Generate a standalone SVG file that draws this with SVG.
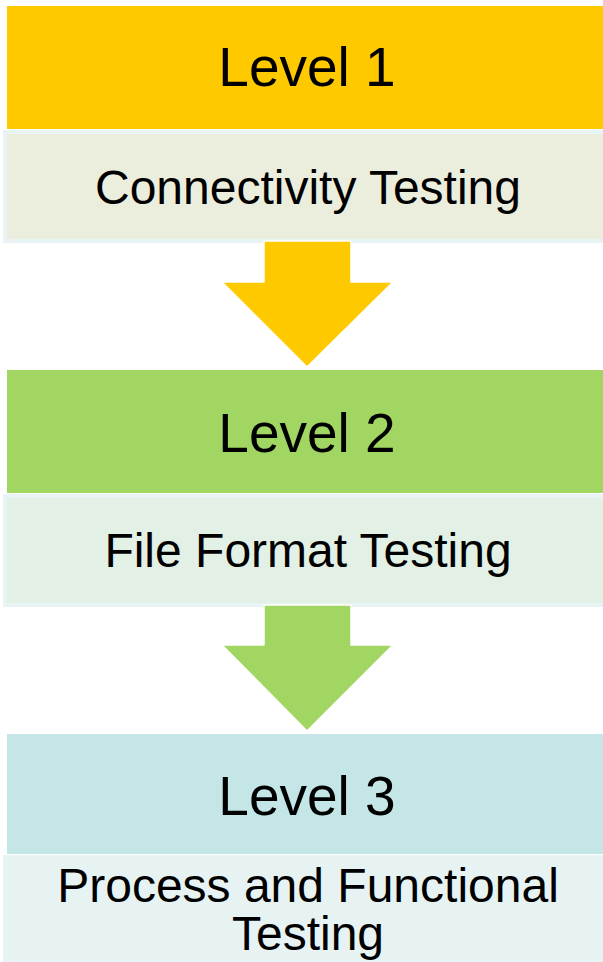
<svg xmlns="http://www.w3.org/2000/svg" width="603" height="962" viewBox="0 0 603 962">
<style>
.lvl{font-family:"Liberation Sans",Arial,sans-serif;font-size:55px;fill:#000;text-anchor:middle}
.sub{font-family:"Liberation Sans",Arial,sans-serif;font-size:48px;fill:#000;text-anchor:middle}
.box{stroke:#E8F3F3;stroke-width:4}
.arrow{stroke:#FFFFFF;stroke-width:1.5;stroke-linejoin:round}
</style>
<rect width="603" height="962" fill="#FFFFFF"/>
<g id="level1">
<rect x="7" y="6" width="600" height="123" fill="#FFC900"/>
<rect class="box" x="5" y="132" width="610" height="109" fill="#ECEEDD"/>
<text class="lvl" x="307" y="86">Level 1</text>
<text class="sub" x="308" y="204">Connectivity Testing</text>
</g>
<g id="level2">
<rect x="7" y="370" width="600" height="123" fill="#A2D662"/>
<rect class="box" x="5" y="496" width="610" height="109" fill="#E3F0E5"/>
<text class="lvl" x="307" y="452">Level 2</text>
<text class="sub" x="308" y="567">File Format Testing</text>
</g>
<g id="level3">
<rect x="7" y="734" width="600" height="120" fill="#C4E6E7"/>
<rect class="box" x="5" y="857" width="610" height="120" fill="#E7F3F3"/>
<text class="lvl" x="307" y="815">Level 3</text>
<text class="sub" x="308" y="902">Process and Functional</text>
<text class="sub" x="308" y="950">Testing</text>
</g>
<g id="connectors">
<path class="arrow" d="M264,241 H351 V282 H393 L307,367 L222,282 H264 Z" fill="#FFC900"/>
<path class="arrow" d="M264,605 H351 V645 H393 L307,731 L222,645 H264 Z" fill="#A2D662"/>
</g>
</svg>
